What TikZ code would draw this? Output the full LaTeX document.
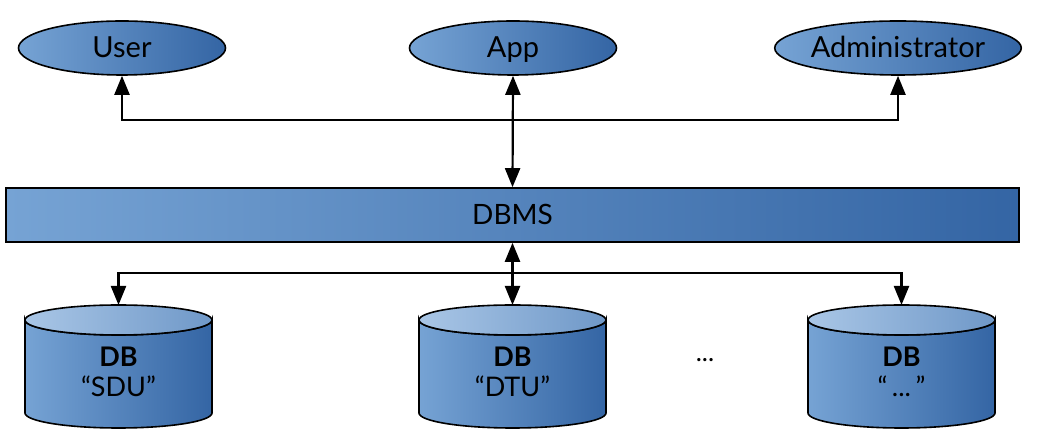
\documentclass[tikz,border=0pt]{standalone}
\usepackage{fontspec}
\setmainfont{Lato}
\usetikzlibrary{arrows.meta,shapes.geometric}
\definecolor{lblue}{HTML}{76A3D4}
\definecolor{dblue}{HTML}{3465A4}
\definecolor{tlblue}{HTML}{A9C6E6}
\definecolor{tdblue}{HTML}{6F98C8}
\tikzset{
  actor/.style={ellipse, draw=black, line width=1.6pt, left color=lblue, right color=dblue,
     minimum width=207pt, minimum height=54pt, inner sep=0pt, font=\fontsize{29}{32}\selectfont,
     text height=27pt, text depth=7pt},
  conn/.style={line width=2.2pt, {Triangle[length=19pt,width=15pt]}-{Triangle[length=19pt,width=15pt]}},
  dbtext/.style={font=\fontsize{27}{30}\selectfont, inner sep=0pt},
  dbbold/.style={font=\fontsize{27}{30}\selectfont\bfseries, inner sep=0pt},
}
\newcommand{\dbcyl}[2]{%
  \path[draw=black, line width=1.6pt, left color=lblue, right color=dblue]
    (#1-93.5,110) -- (#1-93.5,17) arc[start angle=180, end angle=360, x radius=93.5pt, y radius=15pt]
    -- (#1+93.5,110) arc[start angle=0, end angle=-180, x radius=93.5pt, y radius=15pt] -- cycle;
  \path[draw=black, line width=1.6pt, left color=tlblue, right color=tdblue]
    (#1,110) ellipse[x radius=93.5pt, y radius=15pt];
  \coordinate (#2) at (#1,125);
}
\begin{document}
\begin{tikzpicture}[x=1pt,y=1pt]
\useasboundingbox (0,0) rectangle (1044,430);
% actors
\node[actor] (user) at (122,382) {User};
\node[actor] (app) at (513,382) {App};
\node[actor] (admin) at (898,382) {Administrator};
% DBMS
\node[draw=black, line width=1.6pt, left color=lblue, right color=dblue, minimum width=1013pt,
      minimum height=54pt, inner sep=0pt, font=\fontsize{28}{30}\selectfont,
      text height=26.5pt, text depth=7pt] (dbms) at (512.5,215) {DBMS};
% databases
\dbcyl{118.5}{sdutop}
\dbcyl{512.5}{dtutop}
\dbcyl{901.5}{othtop}
\node[dbbold] (sdudb) at (118.5,73) {DB};
\node[dbtext] (sduname) at (118.5,44) {“SDU”};
\node[dbbold] (dtudb) at (512.5,73) {DB};
\node[dbtext] (dtuname) at (512.5,44) {“DTU”};
\node[dbbold] (othdb) at (901.5,73) {DB};
\node[dbtext] (othname) at (901.5,44) {“\,...\,”};
\node[dbtext, font=\fontsize{26}{28}\selectfont] (more) at (705,70) {...};
% connectors top
\draw[conn] (user.south) -- (user.south |- 0,310) -| (admin.south);
\draw[conn] (app.south) -- (dbms.north);
% connectors bottom
\draw[conn] (sdutop) -- (sdutop |- 0,157) -| (othtop);
\draw[conn] (dbms.south) -- (dtutop);
\end{tikzpicture}
\end{document}
